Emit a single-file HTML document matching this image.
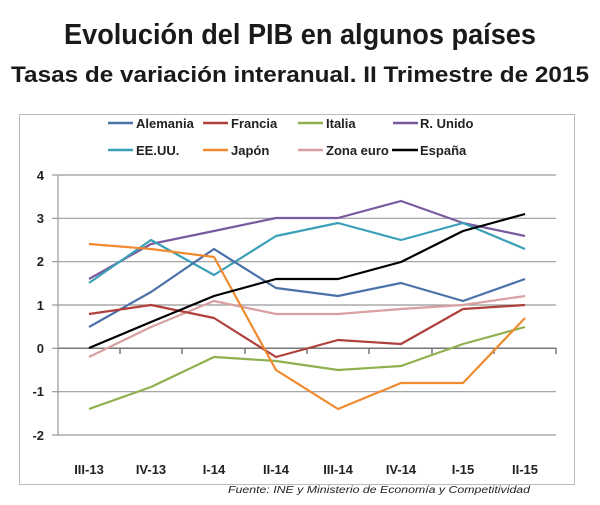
<!DOCTYPE html>
<html><head><meta charset="utf-8"><style>
body{margin:0;background:#fff;width:600px;height:500px;overflow:hidden;font-family:"Liberation Sans",sans-serif}
</style></head><body>
<svg width="600" height="500" xmlns="http://www.w3.org/2000/svg" font-family="Liberation Sans, sans-serif">
<text x="300" y="44" text-anchor="middle" font-size="29" font-weight="bold" fill="#1a1a1a" textLength="472" lengthAdjust="spacingAndGlyphs">Evolución del PIB en algunos países</text>
<text x="300" y="82" text-anchor="middle" font-size="22" font-weight="bold" fill="#1a1a1a" textLength="578" lengthAdjust="spacingAndGlyphs">Tasas de variación interanual. II Trimestre de 2015</text>
<rect x="19.5" y="114.5" width="555" height="370" fill="none" stroke="#bbb"/>
<g font-size="13" font-weight="bold" fill="#222">
<line x1="108" y1="123" x2="133" y2="123" stroke="#4a72a8" stroke-width="2.5"/><text x="136" y="128">Alemania</text>
<line x1="203" y1="123" x2="228" y2="123" stroke="#b0403c" stroke-width="2.5"/><text x="231" y="128">Francia</text>
<line x1="298" y1="123" x2="323" y2="123" stroke="#8fb04e" stroke-width="2.5"/><text x="326" y="128">Italia</text>
<line x1="393" y1="123" x2="418" y2="123" stroke="#7a5a9e" stroke-width="2.5"/><text x="420" y="128">R. Unido</text>
<line x1="108" y1="150" x2="133" y2="150" stroke="#3aa0b8" stroke-width="2.5"/><text x="136" y="155">EE.UU.</text>
<line x1="203" y1="150" x2="228" y2="150" stroke="#f08a2e" stroke-width="2.5"/><text x="231" y="155">Japón</text>
<line x1="298" y1="150" x2="323" y2="150" stroke="#d8a0a0" stroke-width="2.5"/><text x="326" y="155">Zona euro</text>
<line x1="392" y1="150" x2="418" y2="150" stroke="#000" stroke-width="2.5"/><text x="420" y="155">España</text>
</g>
<g stroke="#999" stroke-width="1.2">
<line x1="58" y1="175" x2="556" y2="175"/><line x1="58" y1="218.3" x2="556" y2="218.3"/><line x1="58" y1="261.7" x2="556" y2="261.7"/><line x1="58" y1="305" x2="556" y2="305"/><line x1="58" y1="391.7" x2="556" y2="391.7"/><line x1="58" y1="435" x2="556" y2="435"/>
<line x1="58" y1="175" x2="58" y2="435"/><line x1="52" y1="175" x2="58" y2="175"/><line x1="52" y1="218.3" x2="58" y2="218.3"/><line x1="52" y1="261.7" x2="58" y2="261.7"/><line x1="52" y1="305" x2="58" y2="305"/><line x1="52" y1="348.3" x2="58" y2="348.3"/><line x1="52" y1="391.7" x2="58" y2="391.7"/><line x1="52" y1="435" x2="58" y2="435"/>
</g>
<g stroke="#777" stroke-width="1.5"><line x1="58" y1="348.3" x2="556" y2="348.3"/>
<line x1="120" y1="348" x2="120" y2="354"/><line x1="182" y1="348" x2="182" y2="354"/><line x1="245" y1="348" x2="245" y2="354"/><line x1="307" y1="348" x2="307" y2="354"/><line x1="369" y1="348" x2="369" y2="354"/><line x1="432" y1="348" x2="432" y2="354"/><line x1="494" y1="348" x2="494" y2="354"/><line x1="556" y1="348" x2="556" y2="354"/></g>
<g font-size="13" font-weight="bold" fill="#222" text-anchor="end">
<text x="44" y="180">4</text><text x="44" y="223">3</text><text x="44" y="266">2</text><text x="44" y="310">1</text><text x="44" y="353">0</text><text x="44" y="396">-1</text><text x="44" y="440">-2</text></g>
<g font-size="13" font-weight="bold" fill="#222" text-anchor="middle">
<text x="89" y="474">III-13</text><text x="151" y="474">IV-13</text><text x="214" y="474">I-14</text><text x="276" y="474">II-14</text><text x="338" y="474">III-14</text><text x="401" y="474">IV-14</text><text x="463" y="474">I-15</text><text x="525" y="474">II-15</text></g>
<g fill="none" stroke-width="2.2" stroke-linejoin="round">
<polyline stroke="#7a5a9e" points="89,279 151,244 214,231 276,218 338,218 401,201 463,223 525,236"/>
<polyline stroke="#3aa0b8" points="89,283 151,240 214,275 276,236 338,223 401,240 463,223 525,249"/>
<polyline stroke="#4a72a8" points="89,327 151,292 214,249 276,288 338,296 401,283 463,301 525,279"/>
<polyline stroke="#d8a0a0" points="89,357 151,327 214,301 276,314 338,314 401,309 463,305 525,296"/>
<polyline stroke="#b0403c" points="89,314 151,305 214,318 276,357 338,340 401,344 463,309 525,305"/>
<polyline stroke="#8fb04e" points="89,409 151,387 214,357 276,361 338,370 401,366 463,344 525,327"/>
<polyline stroke="#f08a2e" points="89,244 151,249 214,257 276,370 338,409 401,383 463,383 525,318"/>
<polyline stroke="#000" points="89,348 151,322 214,296 276,279 338,279 401,262 463,231 525,214"/>
</g>
<text x="228" y="493" font-size="10" font-style="italic" fill="#222" textLength="302" lengthAdjust="spacingAndGlyphs">Fuente: INE y Ministerio de Economía y Competitividad</text>
</svg>
</body></html>
